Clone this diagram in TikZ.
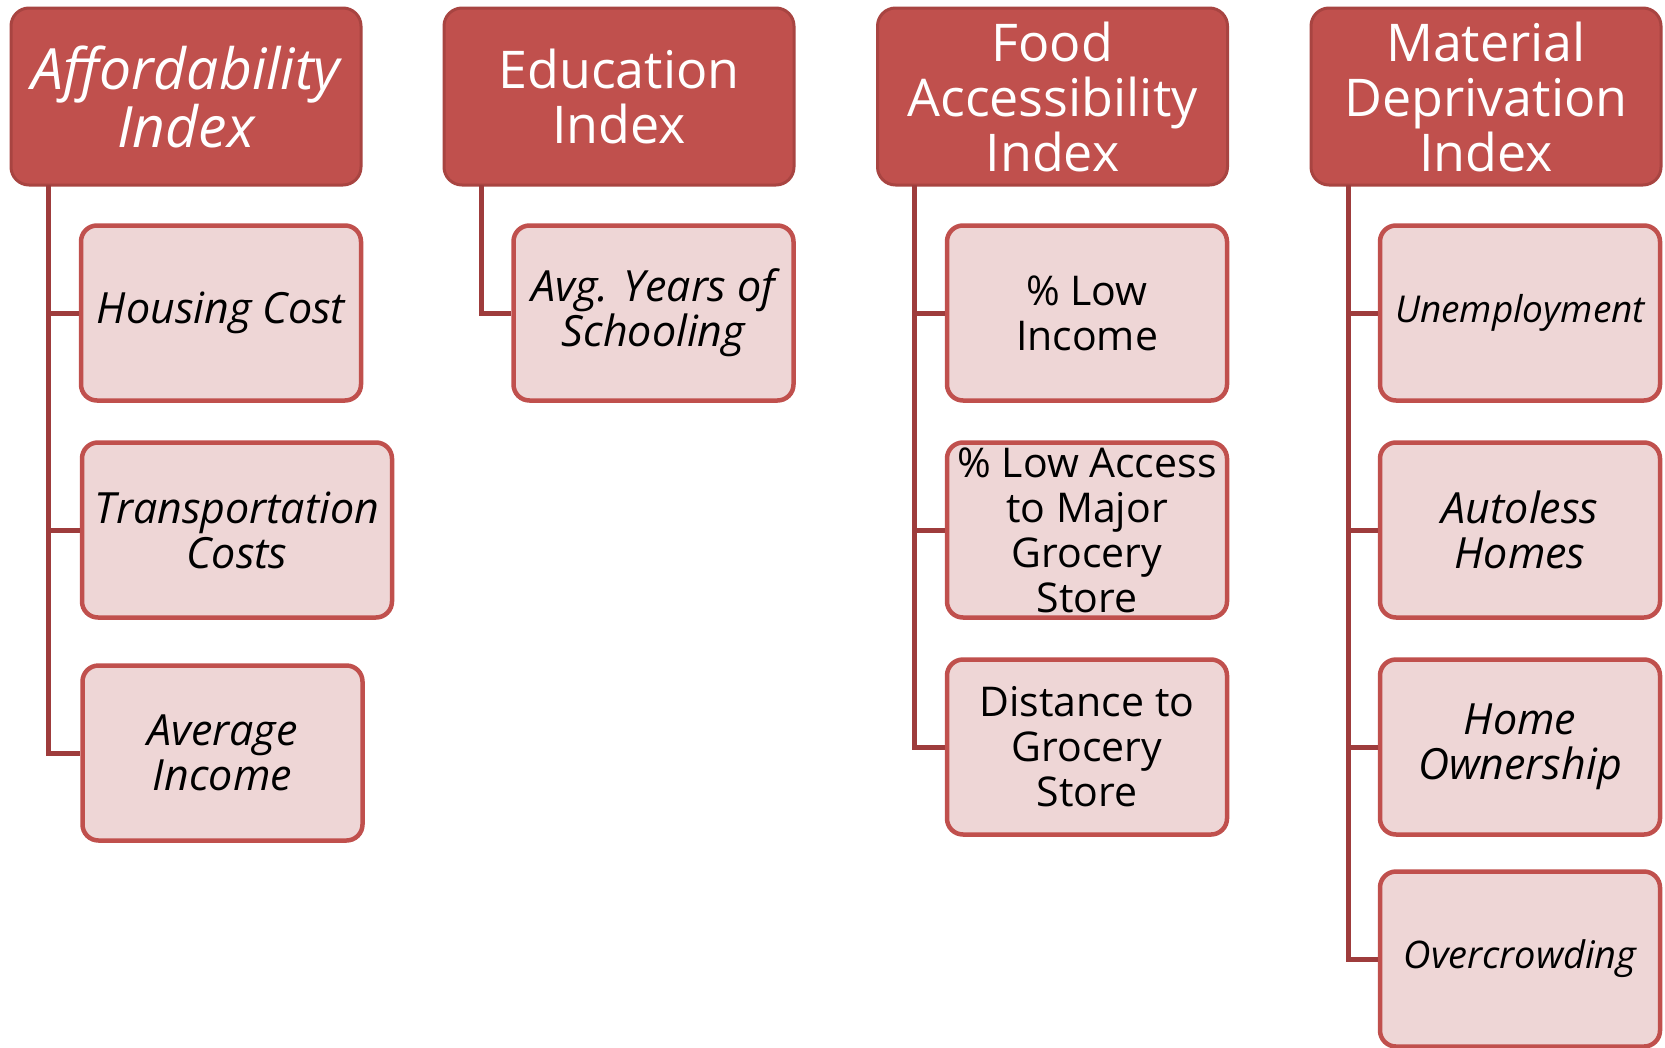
\documentclass[tikz,border=0pt]{standalone}
\usepackage{fontspec}
\setmainfont{Open Sans}
\usepackage{tikz}
\definecolor{headred}{RGB}{192,80,77}
\definecolor{headline}{RGB}{168,68,65}
\definecolor{subpink}{RGB}{238,214,214}
\definecolor{linkred}{RGB}{158,60,60}

\begin{document}
\begin{tikzpicture}[x=1pt, y=-1pt,
		head/.style={rectangle, rounded corners=18pt, draw=headline, fill=headred, line width=3pt, minimum width=350pt, minimum height=177pt, inner sep=0pt, text=white, align=center, font=\fontsize{52}{55}\selectfont},
		headi/.style={head, font=\fontsize{57}{56}\selectfont\itshape},
		sub/.style={rectangle, rounded corners=16pt, draw=headred, fill=subpink, line width=4.5pt, minimum width=280pt, minimum height=175pt, inner sep=0pt, align=center, font=\fontsize{41}{45}\selectfont},
		subi/.style={sub, font=\fontsize{43}{45}\selectfont\itshape},
		link/.style={draw=linkred, line width=5pt}]
		\useasboundingbox (0,0) rectangle (1665,1047);
		
		\node[headi] (afford) at (186,96.5){Affordability\\Index};
		\node[head] (edu) at (619,96.5){Education\\Index};
		\node[head] (food) at (1052.5,96.5){Food\\Accessibility\\Index};
		\node[head] (matdep) at (1486,96.5){Material\\Deprivation\\Index};
		
		\node[subi] (housing) at (221,313){Housing Cost};
		\node[subi, minimum width=310pt] (transport) at (237,530){Transportation\\Costs};
		\node[subi] (avgincome) at (222.5,753){Average\\Income};
		
		\node[subi] (schooling) at (653.5,313){Avg. Years of\\Schooling};
		
		\node[sub] (lowincome) at (1087,313){\% Low\\Income};
		\node[sub] (lowaccess) at (1087,530){\% Low Access\\to Major\\Grocery\\Store};
		\node[sub] (distance) at (1087,747){Distance to\\Grocery\\Store};
		
		\node[subi, font=\fontsize{37}{41}\selectfont\itshape] (unemp) at (1520,313){Unemployment};
		\node[subi] (autoless) at (1520,530){Autoless\\Homes};
		\node[subi] (homeown) at (1520,747){Home\\Ownership};
		\node[subi, font=\fontsize{38}{42}\selectfont\itshape] (overcrowd) at (1520,959){Overcrowding};
		
		\coordinate (afftrunk) at (48,185);
		\coordinate (edutrunk) at (481,185);
		\coordinate (foodtrunk) at (914,185);
		\coordinate (mattrunk) at (1348,185);
		
		\path[link] (afftrunk) |- (avgincome.west);
		\path[link] (afftrunk |- housing.west) -- (housing.west);
		\path[link] (afftrunk |- transport.west) -- (transport.west);
		
		\path[link] (edutrunk) |- (schooling.west);
		
		\path[link] (foodtrunk) |- (distance.west);
		\path[link] (foodtrunk |- lowincome.west) -- (lowincome.west);
		\path[link] (foodtrunk |- lowaccess.west) -- (lowaccess.west);
		
		\path[link] (mattrunk) |- (overcrowd.west);
		\path[link] (mattrunk |- unemp.west) -- (unemp.west);
		\path[link] (mattrunk |- autoless.west) -- (autoless.west);
		\path[link] (mattrunk |- homeown.west) -- (homeown.west);
	\end{tikzpicture}
\end{document}
